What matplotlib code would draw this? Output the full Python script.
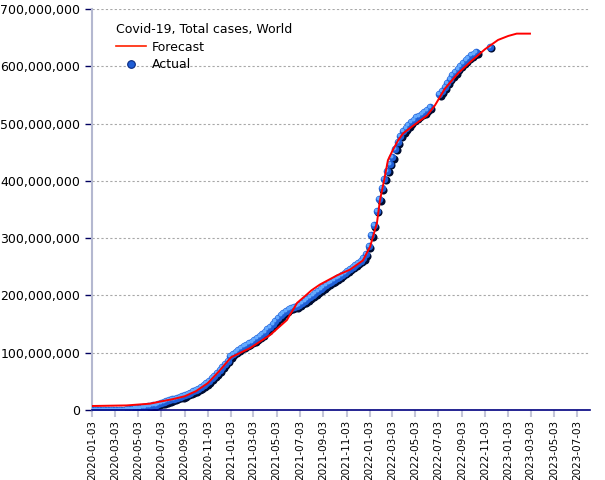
import matplotlib
matplotlib.use("Agg")
from matplotlib import pyplot as plt
from matplotlib import transforms
import pandas as pd

# Actual total cases (millions), weekly from 2020-01-03 to 2022-06-10
actual_dates_1 = pd.date_range("2020-01-03", periods=128, freq="7D")
actual_vals_1 = [
    0, 0, 0, 0, 0.01, 0.03, 0.07, 0.08, 0.09, 0.1, 0.15, 0.3, 0.6,
    1.1, 1.7, 2.3, 2.9, 3.5, 4.1, 4.8, 5.5, 6.3, 7.2, 8.2, 9.4, 10.8,
    12.5, 13.9, 15.4, 17.0, 18.5, 20.0, 21.5, 23.0, 24.6, 26.3, 28.2, 30.2, 32.3,
    34.5, 37.0, 39.8, 42.9, 46.5, 50.5, 55.0, 59.8, 64.5, 70.0, 75.5, 81.0, 86.0,
    94.0, 98.0, 102.0, 105.5, 108.5, 111.5, 114.0, 116.5, 119.0, 122.0, 125.0, 128.5, 132.5,
    136.5, 141.0, 145.5, 150.5, 155.5, 161.0, 166.0, 170.0, 173.5, 176.5, 178.5, 180.0, 181.5,
    184.0, 187.0, 190.0, 193.5, 197.0, 200.5, 204.0, 207.5, 211.0, 214.5, 218.0, 221.0, 224.0,
    227.0, 230.0, 233.0, 236.0, 239.5, 243.0, 246.5, 250.0, 253.5, 257.0, 260.5, 264.5, 272.0,
    286, 305, 323, 348, 368, 387, 404, 418, 430, 441, 456, 468, 479,
    487, 492, 497, 502, 507, 511, 514, 517, 520, 524, 529,
]
# second block after the gap, weekly from 2022-07-05
actual_dates_2 = pd.date_range("2022-07-05", periods=15, freq="7D")
actual_vals_2 = [551, 557, 564, 571, 578, 584, 590, 596, 601, 606, 611, 615, 619, 622, 625]
# last lonely point
actual_dates_3 = pd.to_datetime(["2022-11-16"])
actual_vals_3 = [634]

# Forecast (millions)
fc_dates = pd.to_datetime([
    "2020-01-03", "2020-04-03", "2020-06-03", "2020-07-03", "2020-08-03", "2020-09-03",
    "2020-10-03", "2020-11-03", "2020-12-03", "2021-01-03", "2021-02-22", "2021-04-16",
    "2021-05-30", "2021-06-26", "2021-07-17", "2021-08-03", "2021-08-25", "2021-10-09",
    "2021-11-12", "2021-12-16", "2022-01-04", "2022-01-22", "2022-01-30", "2022-02-10",
    "2022-02-20", "2022-03-05", "2022-03-19", "2022-04-01", "2022-04-27", "2022-06-03",
    "2022-06-24", "2022-07-20", "2022-08-24", "2022-09-29", "2022-11-03", "2022-12-07",
    "2023-01-03", "2023-01-25", "2023-03-01",
])
fc_vals = [
    7, 8, 11, 15, 19, 24,
    33, 47, 68, 92, 108, 131,
    157, 187, 199, 209, 219, 235,
    245, 261, 285, 326, 366, 401,
    436, 454, 471, 483, 496, 514,
    532, 561, 588, 610, 630, 646,
    653, 657, 657,
]

tick_dates = pd.date_range("2020-01-01", "2023-07-01", freq="2MS") + pd.Timedelta(days=2)
tick_labels = [d.strftime("%Y-%m-%d") for d in tick_dates]

M = 1e6
fig = plt.figure(figsize=(6.05, 4.8), dpi=100)
ax = fig.add_axes([92 / 605, 70 / 480, 498 / 605, 401 / 480])

# shaded "sphere" markers built from three layers
dark = transforms.offset_copy(ax.transData, fig=fig, x=1.4, y=-1.6, units="dots")
light = transforms.offset_copy(ax.transData, fig=fig, x=-1.0, y=1.0, units="dots")
for dts, vals in [(actual_dates_1, actual_vals_1), (actual_dates_2, actual_vals_2),
                  (actual_dates_3, actual_vals_3)]:
    yv = [v * M for v in vals]
    ax.scatter(dts, yv, s=34, color="#000c30", linewidths=0, transform=dark, zorder=3)
    ax.scatter(dts, yv, s=30, color="#1f5ed6", linewidths=0, zorder=4)
    ax.scatter(dts, yv, s=8, color="#64aaff", linewidths=0, transform=light, zorder=5)

ax.plot(fc_dates, [v * M for v in fc_vals], color="#ff0000", lw=1.4, zorder=6)

# legend
h_fc, = ax.plot([], [], color="#ff2000", lw=1.2, label="Forecast")
h_ac, = ax.plot([], [], ls="none", marker="o", ms=5.5, mfc="#1f5ed6", mec="#0a2a80",
                mew=0.8, label="Actual")
leg = ax.legend(handles=[h_fc, h_ac], title="Covid-19, Total cases, World",
                loc="upper left", bbox_to_anchor=(0.048, 0.964), frameon=False,
                fontsize=9, title_fontsize=9, borderpad=0, borderaxespad=0,
                handlelength=2.4, handletextpad=0.5, labelspacing=0.35,
                alignment="left")

ax.set_xlim(pd.Timestamp("2020-01-03"), pd.Timestamp("2023-08-06"))
ax.set_ylim(0, 700 * M)
ax.set_xticks(tick_dates)
ax.set_xticklabels(tick_labels, rotation=90, fontsize=7.5)
ax.set_yticks([i * 100 * M for i in range(8)])
ax.yaxis.set_major_formatter(matplotlib.ticker.FuncFormatter(lambda v, p: "{:,.0f}".format(v)))
ax.tick_params(axis="y", labelsize=9, length=5, color="#000060", width=1)
ax.tick_params(axis="x", length=5, color="#c4c6d8", width=1.5, pad=2)

ax.grid(axis="y", color="#a8a8a8", linestyle=(0, (2, 2)), lw=0.8)
ax.set_axisbelow(True)
for s in ["top", "right"]:
    ax.spines[s].set_visible(False)
ax.spines["left"].set_color("#b4b8d0")
ax.spines["left"].set_linewidth(1.5)
ax.spines["bottom"].set_color("#000080")
ax.spines["bottom"].set_linewidth(1.2)
ax.spines["bottom"].set_zorder(7)

plt.savefig("out.png", dpi=100)
